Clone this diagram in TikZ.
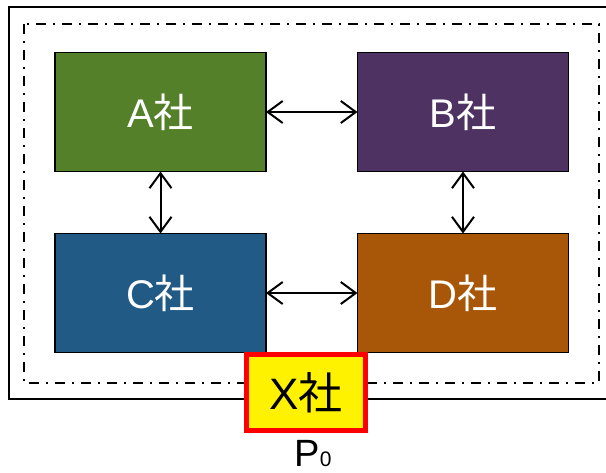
\documentclass[tikz,border=0pt]{standalone}
\usepackage{fontspec}
\setmainfont{Liberation Sans}
\newfontfamily\cjk{Noto Sans CJK JP}
\usetikzlibrary{arrows.meta}
\definecolor{agreen}{HTML}{538029}
\definecolor{bpurple}{HTML}{4E3262}
\definecolor{cblue}{HTML}{225A86}
\definecolor{dorange}{HTML}{A85708}
\newcommand{\sha}{{\cjk 社}}
\begin{document}
\begin{tikzpicture}[x=1pt,y=-1pt,
  company/.style={draw=black,line width=1.5pt,minimum width=211pt,minimum height=119pt,
    outer sep=0pt,text=white,font=\fontsize{40}{40}\selectfont,inner sep=0pt},
  link/.style={line width=2pt,{Straight Barb[length=15pt,width=22pt,line width=2pt]}-{Straight Barb[length=15pt,width=22pt,line width=2pt]}},
  frame/.style={line width=2pt},
  group/.style={line width=2.5pt,dash pattern=on 10pt off 7pt on 2pt off 7pt}]
\useasboundingbox (0,0) rectangle (606,472);
% outer frame, its right side lies past the edge
\draw[frame] (9,7) rectangle (640,399);
% group boundary
\draw[group] (24,24) rectangle (599,383);
% companies
\node[company,fill=agreen]  (A) at (160.5,112) {A\sha};
\node[company,fill=bpurple] (B) at (463,112)   {B\sha};
\node[company,fill=cblue]   (C) at (160.5,293) {C\sha};
\node[company,fill=dorange] (D) at (463,293)   {D\sha};
% links between companies
\draw[link] (A.east) -- (B.west);
\draw[link] (C.east) -- (D.west);
\draw[link] (A.south) -- (C.north);
\draw[link] (B.south) -- (D.north);
% company X
\node[draw=red,fill=yellow,line width=5pt,minimum width=119pt,minimum height=76pt,
  inner sep=0pt,outer sep=0pt,font=\fontsize{44}{44}\selectfont] (X) at (306,392.5) {X\sha};
\node[anchor=base,inner sep=0pt] (P) at (313,466)
  {\fontsize{38}{38}\selectfont P\fontsize{21}{21}\selectfont 0};
\end{tikzpicture}
\end{document}
